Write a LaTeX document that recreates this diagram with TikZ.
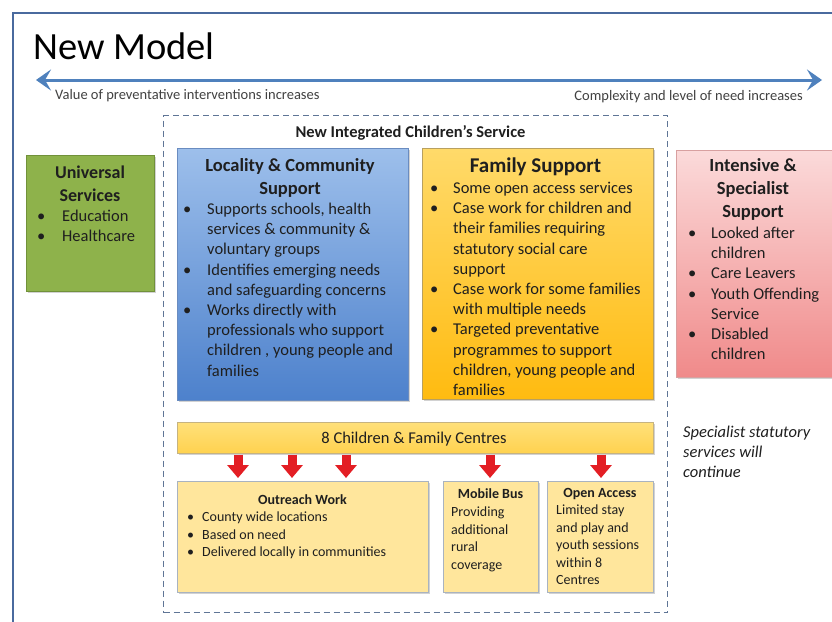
\documentclass[tikz,border=0pt]{standalone}
\usepackage{fontspec}
\setmainfont{Carlito}
\usetikzlibrary{arrows.meta,shadows,calc}
\definecolor{framec}{HTML}{4A6A9E}
\definecolor{arrc}{HTML}{4F81BD}
\definecolor{ink}{HTML}{1F1F1F}
\definecolor{dashc}{HTML}{5F7596}
\definecolor{greenf}{HTML}{8EB24B}
\definecolor{greend}{HTML}{71913A}
\definecolor{bluet}{HTML}{9DBFEB}
\definecolor{blueb}{HTML}{4D81CC}
\definecolor{blued}{HTML}{6A8CC0}
\definecolor{yelt}{HTML}{FFDA6A}
\definecolor{yelb}{HTML}{FFBB10}
\definecolor{yeld}{HTML}{B8A060}
\definecolor{pinkt}{HTML}{FBDADA}
\definecolor{pinkb}{HTML}{F08A8A}
\definecolor{pinkd}{HTML}{D8A0A0}
\definecolor{cent}{HTML}{FFE07A}
\definecolor{cenb}{HTML}{FFD24F}
\definecolor{lowf}{HTML}{FFE69C}
\definecolor{lowd}{HTML}{A9B3C0}
\definecolor{redc}{HTML}{E31E24}
\newlength\bind
\newcommand{\bitem}{\par\noindent\hangindent=\bind\hangafter=1\makebox[\bind][l]{\textbullet}}
\begin{document}
\begin{tikzpicture}[x=1pt,y=-1pt,
  box/.style={anchor=north west, inner sep=0pt, line width=0.7pt,
    drop shadow={shadow xshift=1.5pt,shadow yshift=-2pt,opacity=0.35}},
  txt/.style={anchor=base west, inner sep=0pt, text=ink},
  ttl/.style={anchor=base, inner sep=0pt, text=ink, font=\bfseries\fontsize{18.5}{23}\selectfont},
  body/.style={font=\fontsize{16.5}{20.2}\selectfont},
  smallt/.style={font=\fontsize{14}{17.5}\selectfont},
  smallttl/.style={anchor=base, inner sep=0pt, text=ink, font=\bfseries\fontsize{14}{17}\selectfont},
  redarr/.style={draw=redc, line width=9pt, -{Triangle[length=13pt,width=21pt]}},
  barrow/.style={draw=arrc, line width=3pt, {Stealth[length=15pt,width=21pt,inset=6pt]}-{Stealth[length=15pt,width=21pt,inset=6pt]}}
]
\clip (0,0) rectangle (832,621);
\fill[white] (0,0) rectangle (832,621);
% outer frame
\draw[framec, line width=2pt] (13,640) -- (13,13) -- (850,13);
% title
\node[txt, font=\fontsize{38.5}{44}\selectfont, text=black] (title) at (33,59.5) {New Model};
% double arrow
\coordinate (la) at (36,80);
\coordinate (ra) at (822,80);
\draw[barrow] (la) -- (ra);
\node[txt, font=\fontsize{14.5}{17}\selectfont, text=ink!85] (lval) at (55,99) {Value of preventative interventions increases};
\node[anchor=base east, inner sep=0pt, font=\fontsize{14.5}{17}\selectfont, text=ink!85] (lcomp) at (803,100) {Complexity and level of need increases};
% dashed container
\node[anchor=north west, inner sep=0pt, draw=dashc, line width=1.3pt, dash pattern=on 6pt off 4pt,
  minimum width=504pt, minimum height=497pt] (isvc) at (163,115) {};
\node[anchor=base, inner sep=0pt, text=ink, font=\bfseries\fontsize{16.5}{20}\selectfont] (isvct) at (410.5,137.5) {New Integrated Children’s Service};
% universal services
\node[box, fill=greenf, draw=greend, minimum width=128pt, minimum height=136pt] (univ) at (26,155) {};
\node[ttl, font=\bfseries\fontsize{18}{23}\selectfont] (univt) at (90,178) {\parbox[t]{120pt}{\centering Universal\\Services}};
\node[txt, body] (univb) at (37,221.5) {\parbox[t]{115pt}{\setlength\bind{25pt}\raggedright
 \bitem Education
 \bitem Healthcare}};
% locality & community
\node[box, top color=bluet, bottom color=blueb, draw=blued, minimum width=231pt, minimum height=252pt] (loc) at (177,148) {};
\node[ttl] (loct) at (290,171) {\parbox[t]{220pt}{\centering Locality \& Community\\Support}};
\node[txt, body] (locb) at (183,214.5) {\parbox[t]{222pt}{\setlength\bind{24pt}\raggedright
 \bitem Supports schools, health\newline services \& community \&\newline voluntary groups
 \bitem Identifies emerging needs\newline and safeguarding concerns
 \bitem Works directly with\newline professionals who support\newline children , young people and\newline families}};
% family support
\node[box, top color=yelt, bottom color=yelb, draw=yeld, minimum width=231pt, minimum height=251pt] (fam) at (422,148) {};
\node[ttl, font=\bfseries\fontsize{21}{25}\selectfont] (famt) at (535.5,172) {Family Support};
\node[txt, body] (famb) at (430,193.5) {\parbox[t]{222pt}{\setlength\bind{23pt}\raggedright
 \bitem Some open access services
 \bitem Case work for children and\newline their families requiring\newline statutory social care\newline support
 \bitem Case work for some families\newline with multiple needs
 \bitem Targeted preventative\newline programmes to support\newline children, young people and\newline families}};
% intensive & specialist
\node[box, top color=pinkt, bottom color=pinkb, draw=pinkd, minimum width=160pt, minimum height=227pt] (spec) at (676,150) {};
\node[ttl] (spect) at (753,171.5) {\parbox[t]{150pt}{\centering Intensive \&\\Specialist\\Support}};
\node[txt, body] (specb) at (688,238.5) {\parbox[t]{150pt}{\setlength\bind{23pt}\raggedright
 \bitem Looked after\newline children
 \bitem Care Leavers
 \bitem Youth Offending\newline Service
 \bitem Disabled\newline children}};
\node[txt, body, font=\itshape\fontsize{16.5}{20}\selectfont] (cont) at (683,437) {\parbox[t]{148pt}{\raggedright Specialist statutory\\services will\\continue}};
% centres bar
\node[box, top color=cent, bottom color=cenb, draw=yeld!80, minimum width=476pt, minimum height=31pt] (centres) at (177,422) {};
\node[anchor=base, inner sep=0pt, text=ink, font=\fontsize{16.5}{20}\selectfont] (centrest) at (414,443) {8 Children \& Family Centres};
% lower boxes
\node[box, fill=lowf, draw=lowd, minimum width=251pt, minimum height=111pt] (outreach) at (177,481) {};
\node[box, fill=lowf, draw=lowd, minimum width=95pt, minimum height=111pt] (bus) at (443,481) {};
\node[box, fill=lowf, draw=lowd, minimum width=106pt, minimum height=111pt] (open) at (547,481) {};
\node[smallttl] (outt) at (302.5,504.5) {Outreach Work};
\node[txt, smallt] (outb) at (187,521.5) {\parbox[t]{235pt}{\setlength\bind{15pt}\raggedright
 \bitem County wide locations
 \bitem Based on need
 \bitem Delivered locally in communities}};
\node[smallttl] (bust) at (490.5,498.5) {Mobile Bus};
\node[txt, smallt] (busb) at (451,516.5) {\parbox[t]{85pt}{\raggedright Providing\\additional\\rural\\coverage}};
\node[smallttl] (opent) at (600,497.5) {Open Access};
\node[txt, smallt] (openb) at (556,514.5) {\parbox[t]{95pt}{\raggedright Limited stay\\and play and\\youth sessions\\within 8\\Centres}};
% red arrows
\foreach \n/\xx in {a1/238,a2/292,a3/346}{
  \coordinate (\n) at (\xx,0);
  \draw[redarr] ([yshift=-1pt]centres.south -| \n) -- ([yshift=3pt]outreach.north -| \n);
}
\coordinate (a4) at (490,0);
\draw[redarr] ([yshift=-1pt]centres.south -| a4) -- ([yshift=3pt]bus.north -| a4);
\coordinate (a5) at (601,0);
\draw[redarr] ([yshift=-1pt]centres.south -| a5) -- ([yshift=3pt]open.north -| a5);
\end{tikzpicture}
\end{document}
